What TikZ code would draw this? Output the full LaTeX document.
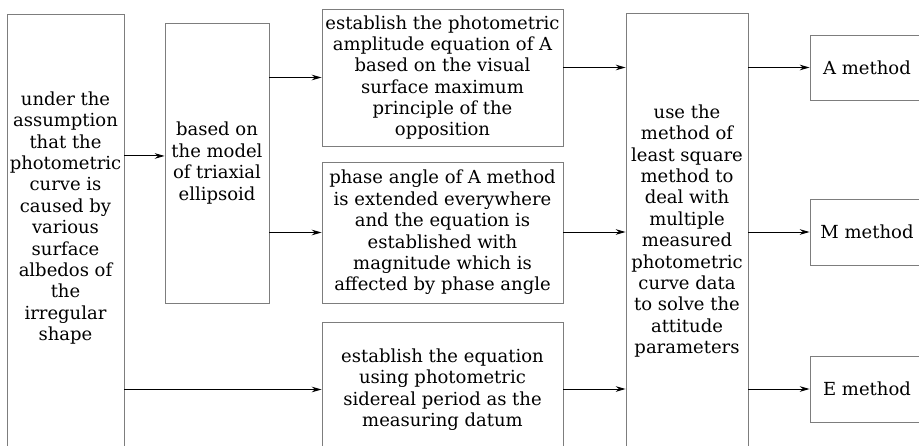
\documentclass[tikz,border=0pt]{standalone}
\usepackage{fontspec}
\setmainfont{DejaVu Serif}
\usetikzlibrary{arrows.meta,positioning}
\definecolor{boxgray}{RGB}{125,125,125}
\tikzset{
  stepbox/.style={draw=boxgray, line width=0.6pt, rectangle, inner sep=0pt},
  steptext/.style={align=center, inner sep=0pt, font=\fontsize{12.8}{15.2}\selectfont},
  flow/.style={-{Stealth[length=7pt,width=4pt]}, line width=0.7pt, black}
}

\begin{document}
\begin{tikzpicture}[x=0.025cm, y=-0.025cm]
  \useasboundingbox (0,0) rectangle (919,446);
  \clip (0,0) rectangle (919,446);

  %% Assumption (runs off the bottom edge)
  \node[stepbox, minimum width=2.925cm, minimum height=12cm, anchor=north] (assume) at (65.5,14) {};
  \node[steptext] (assumetext) at (65.5,218) {under the\\assumption\\that the\\photometric\\curve is\\caused by\\various\\surface\\albedos of\\the\\irregular\\shape};

  %% Model
  \node[stepbox, steptext, minimum width=2.6cm, minimum height=7cm] (model) at (217,163) {based on\\the model\\of triaxial\\ellipsoid};

  %% Equations
  \node[stepbox, steptext, minimum width=6.025cm, minimum height=3.425cm] (amp) at (442.5,77.5) {establish the photometric\\amplitude equation of A\\based on the visual\\surface maximum\\principle of the\\opposition};
  \node[stepbox, steptext, minimum width=6.025cm, minimum height=3.525cm] (phase) at (442.5,232.5) {phase angle of A method\\is extended everywhere\\and the equation is\\established with\\magnitude which is\\affected by phase angle};
  \node[stepbox, steptext, minimum width=6.025cm, minimum height=3.35cm] (sidereal) at (442.5,389.5) {establish the equation\\using photometric\\sidereal period as the\\measuring datum};

  %% Least square
  \node[stepbox, steptext, minimum width=3.05cm, minimum height=10.9cm] (lsq) at (687,231) {use the\\method of\\least square\\method to\\deal with\\multiple\\measured\\photometric\\curve data\\to solve the\\attitude\\parameters};

  %% Methods (run off the right edge)
  \node[stepbox, steptext, minimum width=2.85cm, minimum height=1.625cm] (amethod) at (867,67.5) {A method};
  \node[stepbox, steptext, minimum width=2.85cm, minimum height=1.65cm] (mmethod) at (867,232) {M method};
  \node[stepbox, steptext, minimum width=2.85cm, minimum height=1.65cm] (emethod) at (867,389) {E method};

  %% Connectors
  \coordinate (modelin) at ([yshift=5pt]model.west);
  \draw[flow] (assume.east |- modelin) -- (modelin);
  \draw[flow] (assume.east |- sidereal.west) -- (sidereal.west);
  \draw[flow] (model.east |- amp.west) -- (amp.west);
  \draw[flow] (model.east |- phase.west) -- (phase.west);

  \draw[flow] (amp.east |- amethod.west) -- (lsq.west |- amethod.west);
  \draw[flow] (phase.east |- mmethod.west) -- (lsq.west |- mmethod.west);
  \draw[flow] (sidereal.east |- emethod.west) -- (lsq.west |- emethod.west);

  \draw[flow] (lsq.east |- amethod.west) -- (amethod.west);
  \draw[flow] (lsq.east |- mmethod.west) -- (mmethod.west);
  \draw[flow] (lsq.east |- emethod.west) -- (emethod.west);
\end{tikzpicture}
\end{document}
